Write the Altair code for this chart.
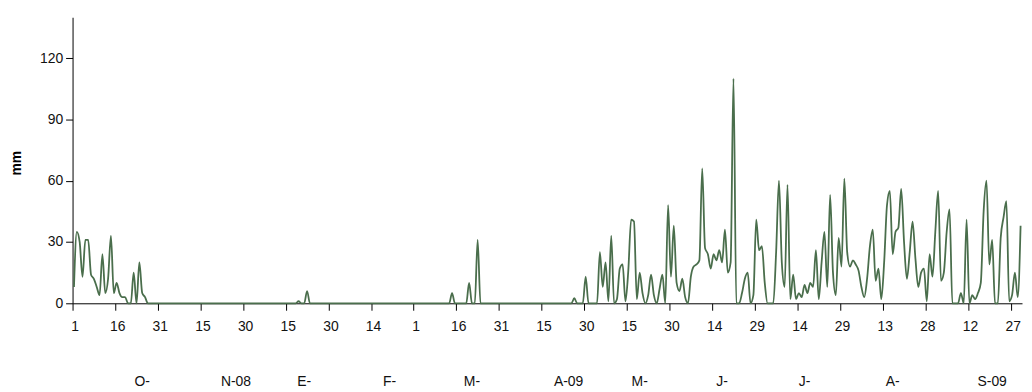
import altair as alt
import pandas as pd

# Daily rainfall (mm), Oct 2008 - Sep 2009 (December not in the series)
oct_mm = [8, 35, 30, 13, 31, 31, 14, 12, 8, 4, 24, 5, 12, 33, 5, 10, 5, 3, 3, 0,
          0, 15, 0, 20, 5, 3, 0, 0, 0, 0, 0]
nov_mm = [0, 0, 0, 0, 0, 0, 0, 0, 0, 0, 0, 0, 0, 0, 0, 0, 0, 0, 0, 0,
          0, 0, 0, 0, 0, 0, 0, 0, 0, 0]
jan_mm = [0, 0, 0, 0, 0, 0, 0, 0, 0, 0, 0, 0, 0, 0, 0, 0, 0, 0, 1, 0,
          0, 6, 0, 0, 0, 0, 0, 0, 0, 0, 0]
feb_mm = [0, 0, 0, 0, 0, 0, 0, 0, 0, 0, 0, 0, 0, 0, 0, 0, 0, 0, 0, 0,
          0, 0, 0, 0, 0, 0, 0, 0]
mar_mm = [0, 0, 0, 0, 0, 0, 0, 0, 0, 0, 0, 0, 0, 5, 0, 0, 0, 0, 0, 10,
          0, 0, 31, 0, 0, 0, 0, 0, 0, 0, 0]
apr_mm = [0, 0, 0, 0, 0, 0, 0, 0, 0, 0, 0, 0, 0, 0, 0, 0, 0, 0, 0, 0,
          0, 0, 0, 0, 0, 2.5, 0, 0, 0, 13]
may_mm = [0, 0, 0, 0, 25, 8, 20, 1, 33, 0, 2, 17, 19, 1, 16, 41, 40, 2, 15, 5,
          0, 4, 14, 4, 0, 7, 14, 0, 48, 13, 38]
jun_mm = [10, 6, 12, 3, 0, 13, 18, 19, 21, 66, 27, 24, 17, 24, 21, 26, 20, 36, 15, 20,
          110, 0, 0, 5, 12, 15, 0, 4, 41, 26]
jul_mm = [28, 10, 0, 0, 0, 25, 60, 20, 8, 58, 2, 14, 2, 5, 3, 9, 5, 10, 8, 26,
          2, 20, 35, 8, 53, 15, 4, 32, 18, 61, 25]
aug_mm = [18, 21, 19, 16, 8, 3, 12, 28, 36, 11, 17, 2, 20, 48, 55, 24, 35, 37, 56, 30,
          12, 25, 40, 22, 8, 15, 17, 1, 24, 13, 35]
sep_mm = [55, 11, 15, 35, 46, 0, 0, 0, 5, 0, 41, 0, 4, 2, 5, 10, 45, 60, 19, 31,
          0, 0, 32, 42, 50, 1, 4, 15, 3, 38]

months_mm = [oct_mm, nov_mm, jan_mm, feb_mm, mar_mm, apr_mm,
             may_mm, jun_mm, jul_mm, aug_mm, sep_mm]
month_labels = ["O-", "N-08", "E-", "F-", "M-", "A-09", "M-", "J-", "J-", "A-", "S-09"]
# day of month under which each month label sits in the original
month_label_day = [25, 27, 21, 20, 21, 24, 19, 17, 16, 16, 20]

tick_labels = ["1", "16", "31", "15", "30", "15", "30", "14", "1", "16", "31", "15",
               "30", "15", "30", "14", "29", "14", "29", "13", "28", "12", "27"]
y_ticks = [0, 30, 60, 90, 120]

rows = []
lab_rows = []
start = 0
for m, vals in enumerate(months_mm):
    for d, v in enumerate(vals):
        rows.append({"x": start + d + 0.5, "mm": v})
    lab_rows.append({"x": start + month_label_day[m] - 0.5, "label": month_labels[m]})
    start += len(vals)
total_days = start

df = pd.DataFrame(rows)
labs = pd.DataFrame(lab_rows)

tick_vals = [15 * k for k in range(len(tick_labels))]
label_expr = "[" + ",".join("'%s'" % s for s in tick_labels) + "][round(datum.value/15)]"

FONT = "Liberation Sans"
xscale = alt.Scale(domain=[0, total_days], nice=False, zero=False)
xaxis = alt.Axis(values=tick_vals, labelExpr=label_expr, title=None,
                 grid=False, tickSize=7, labelPadding=9, labelOffset=2,
                 labelFont=FONT, labelFontSize=14, labelColor="#111",
                 domainColor="#000", tickColor="#000", labelFlush=False,
                 labelOverlap=False)

line = alt.Chart(df).mark_line(
    interpolate="monotone", color="#4a6e4c", strokeWidth=1.8
).encode(
    x=alt.X("x:Q", scale=xscale, axis=xaxis),
    y=alt.Y("mm:Q", scale=alt.Scale(domain=[0, 140], nice=False),
            axis=alt.Axis(values=y_ticks, title="mm", grid=False, tickSize=7,
                          labelPadding=3, labelFont=FONT, labelFontSize=14,
                          labelColor="#111", domainColor="#000", tickColor="#000",
                          titleFont=FONT, titleFontSize=14, titleFontWeight="bold",
                          titleColor="#000", titleX=-56, titleY=146.5, titleAngle=270,
                          titleAlign="center", titleBaseline="middle"))
)

text = alt.Chart(labs).mark_text(
    font=FONT, fontSize=14, color="#111", align="center", baseline="middle"
).encode(
    x=alt.X("x:Q", scale=xscale, axis=xaxis),
    y=alt.value(367),
    text="label:N"
)

chart = alt.layer(line, text).properties(
    width=956, height=288,
    padding={"left": 65, "top": 8, "right": 2, "bottom": 87},
    autosize=alt.AutoSizeParams(type="none"),
    background="white"
).configure_view(stroke=None)

chart.save("out.html", embed_options={"renderer": "svg", "actions": False})
